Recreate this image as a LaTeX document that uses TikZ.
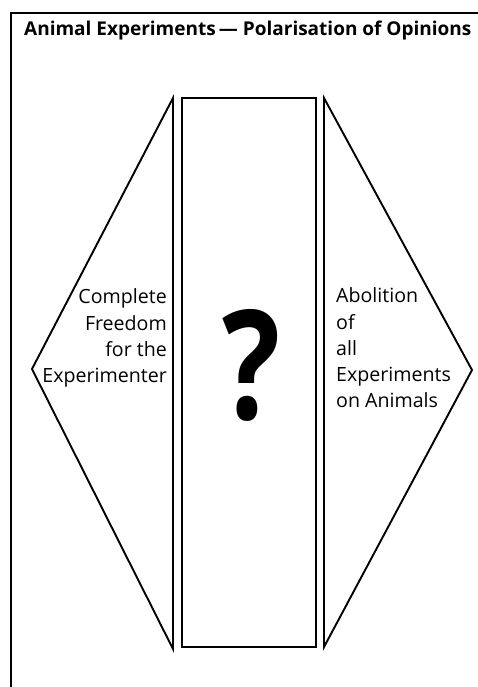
\documentclass[tikz,border=0pt]{standalone}
\usepackage{fontspec}
\setmainfont{Open Sans}
\begin{document}
\begin{tikzpicture}[x=1pt,y=-1pt,
  line/.style={line width=1.9pt,line join=miter},
  lbl/.style={inner sep=0pt,font=\fontsize{19.6}{22}\selectfont},
  ttl/.style={inner sep=0pt,font=\bfseries\fontsize{19}{22}\selectfont}]
\useasboundingbox[fill=white] (0,0) rectangle (478,687);
% frame
\coordinate (fbl) at (11,687);
\coordinate (ftl) at (11,13);
\coordinate (ftr) at (478,13);
\draw[line width=2pt] (fbl) -- (ftl) -- (ftr);
% title
\node[ttl,anchor=base west] (title) at (24,36) {Animal Experiments\,— Polarisation of Opinions};
% left triangle
\coordinate (lt) at (173,98);
\coordinate (la) at (32,369);
\coordinate (lb) at (173,649);
\draw[line] (lt) -- (la) -- (lb) -- cycle;
% rectangle
\coordinate (rtl) at (182,98);
\coordinate (rbr) at (316,647);
\draw[line] (rtl) rectangle (rbr);
% right triangle
\coordinate (rt) at (324,98);
\coordinate (ra) at (472,370);
\coordinate (rb) at (324,647);
\draw[line] (rt) -- (ra) -- (rb) -- cycle;
% left text
\node[lbl,anchor=base east] (l1) at (167,303) {Complete};
\node[lbl,anchor=base east] (l2) at (167,330) {Freedom};
\node[lbl,anchor=base east] (l3) at (167,356) {for the};
\node[lbl,anchor=base east] (l4) at (167,382) {Experimenter};
% right text
\node[lbl,anchor=base west] (r1) at (336,302) {Abolition};
\node[lbl,anchor=base west] (r2) at (336,329) {of};
\node[lbl,anchor=base west] (r3) at (336,355) {all};
\node[lbl,anchor=base west] (r4) at (336,381) {Experiments};
\node[lbl,anchor=base west] (r5) at (336,407) {on Animals};
% question mark
\node[inner sep=0pt,anchor=south] (q) at (252,422) {\resizebox{58pt}{110pt}{\bfseries ?}};
\end{tikzpicture}
\end{document}
